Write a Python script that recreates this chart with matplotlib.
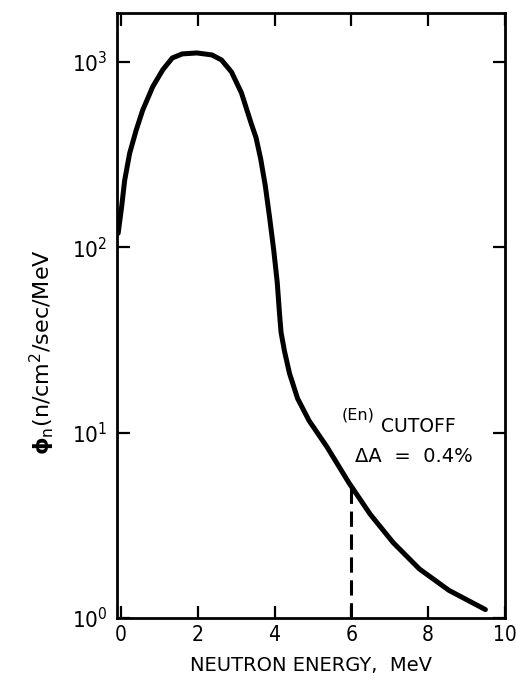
import numpy as np
import matplotlib
matplotlib.use("Agg")
import matplotlib.pyplot as plt

# neutron spectrum (MeV, n/cm^2/sec/MeV)
energy = [-0.07, 0.02, 0.10, 0.23, 0.40, 0.57, 0.83, 1.09, 1.34, 1.60, 1.98,
          2.37, 2.62, 2.88, 3.14, 3.39, 3.52, 3.64, 3.76, 3.87, 3.98, 4.07,
          4.13, 4.17, 4.26, 4.39, 4.60, 4.90, 5.37, 5.93, 6.49, 7.09, 7.77,
          8.54, 9.49]
flux = [119, 165, 230, 322, 429, 550, 735, 906, 1051, 1105, 1118,
        1091, 1025, 883, 680, 468, 390, 300, 215, 146, 96.5, 65,
        44, 34.8, 27.5, 20.9, 15.3, 11.6, 8.35, 5.39, 3.63, 2.55, 1.84,
        1.41, 1.11]

# cutoff marker
cutoff_e = 6.0
cutoff_top = 5.05

xticks = [0, 2, 4, 6, 8, 10]
yticks = [1, 10, 100, 1000]
ytick_labels = [r'10$^\mathregular{0}$', r'10$^\mathregular{1}$',
                r'10$^\mathregular{2}$', r'10$^\mathregular{3}$']

plt.rcParams['font.family'] = ['DejaVu Sans']
plt.rcParams['mathtext.fontset'] = 'dejavusans'

fig = plt.figure(figsize=(5.16, 6.79), dpi=100)
ax = fig.add_axes([117/516, 1 - 618/679, (505 - 117)/516, (618 - 13)/679])

ax.plot(energy, flux, color='black', lw=3.6, solid_capstyle='round',
        solid_joinstyle='round')
ax.plot([cutoff_e, cutoff_e], [1, cutoff_top], color='black', lw=2.2,
        linestyle=(0, (5, 2.5)))

ax.set_yscale('log')
ax.set_xlim(-0.1, 10)
ax.set_ylim(1, 10**3.264)
ax.set_xticks(xticks)
ax.set_xticklabels([str(t) for t in xticks], fontsize=15, fontstretch='condensed')
ax.set_yticks(yticks)
ax.set_yticklabels(ytick_labels, fontsize=16, fontstretch='condensed')
ax.yaxis.set_minor_locator(matplotlib.ticker.NullLocator())

ax.tick_params(direction='in', length=9, width=1.6, top=True, right=True,
               labeltop=False, labelright=False)
ax.tick_params(axis='y', pad=7)
ax.tick_params(axis='x', pad=5)
for s in ax.spines.values():
    s.set_linewidth(2.0)

ax.set_xlabel('NEUTRON ENERGY,  MeV', fontsize=14, labelpad=8)
ax.set_ylabel(r'$\mathbf{\phi}_\mathregular{n}$(n/cm$^\mathregular{2}$/sec/MeV',
              fontsize=16)
ax.yaxis.set_label_coords(-0.155, 0.44)

ax.text(342/516, 1 - 415/679, '(En)', transform=fig.transFigure,
        fontsize=11.5, ha='left', va='center')
ax.text(381/516, 1 - 426/679, 'CUTOFF', transform=fig.transFigure,
        fontsize=13.5, ha='left', va='center')
ax.text(355/516, 1 - 457/679, r'ΔA  =  0.4%', transform=fig.transFigure,
        fontsize=14, ha='left', va='center')

fig.savefig('out.png', dpi=100)
